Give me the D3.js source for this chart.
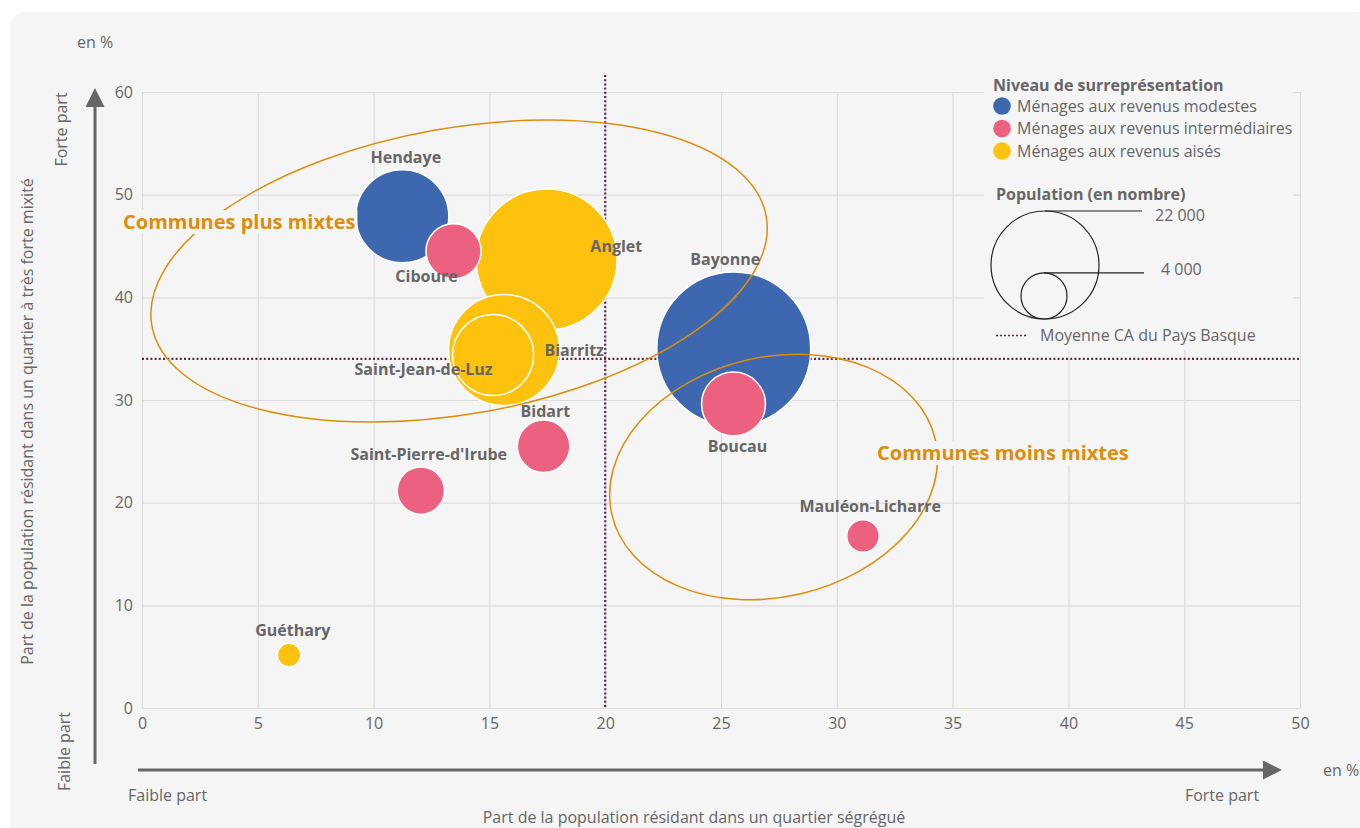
<!DOCTYPE html>
<html>
<head>
<meta charset="utf-8">
<script src="https://cdn.jsdelivr.net/npm/d3@7"></script>
<style>
    body { margin: 0; background: #ffffff; }
    text { font-family: "Open Sans", sans-serif; }
</style>
</head>
<body>
<div id="scatter"></div>
<script>
// Data
var communes = ["Bayonne", "Anglet", "Biarritz", "Hendaye", "Saint-Jean-de-Luz", "Boucau",
    "Ciboure", "Bidart", "Saint-Pierre-d'Irube", "Mauléon-Licharre", "Guéthary"];
var segregue = [25.55, 17.47, 15.63, 11.24, 15.16, 25.54, 13.45, 17.34, 12.04, 31.13, 6.35];
var mixite = [34.97, 43.69, 34.87, 47.89, 34.38, 29.61, 44.49, 25.49, 21.17, 16.75, 5.16];
var population = [44700, 37500, 23200, 16300, 12400, 7700, 5700, 5200, 4200, 2000, 1030];
var niveau = ["modestes", "aises", "aises", "modestes", "aises", "intermediaires",
    "intermediaires", "intermediaires", "intermediaires", "intermediaires", "aises"];

var niveauKeys = ["modestes", "intermediaires", "aises"];
var niveauLabels = ["Ménages aux revenus modestes", "Ménages aux revenus intermédiaires", "Ménages aux revenus aisés"];
var legendPop = [22000, 4000];
var legendPopLabels = ["22 000", "4 000"];

var xTicks = [0, 5, 10, 15, 20, 25, 30, 35, 40, 45, 50];
var yTicks = [0, 10, 20, 30, 40, 50, 60];
var moyenneX = 20;
var moyenneY = 34;

// Set graph size
var svgWidth = 1360;
var svgHeight = 828;

var margin = { top: 92, right: 60, bottom: 120, left: 142 };
var width = 1300 - margin.left;
var height = 708 - margin.top;

var svg = d3.select("#scatter")
    .append("svg")
    .attr("width", svgWidth)
    .attr("height", svgHeight);

// Panel background
svg.append("rect")
    .attr("x", 10)
    .attr("y", 12)
    .attr("width", svgWidth)
    .attr("height", svgHeight)
    .attr("rx", 15)
    .attr("fill", "#f5f5f5");

var chartGroup = svg.append("g")
    .attr("transform", `translate(${margin.left}, ${margin.top})`);

// Scales
var xScale = d3.scaleLinear().domain([0, 50]).range([0, width]);
var yScale = d3.scaleLinear().domain([0, 60]).range([height, 0]);
var rScale = d3.scaleSqrt().domain([0, 22000]).range([0, 54]);
var color = d3.scaleOrdinal().domain(niveauKeys).range(["#3d67ae", "#ec6080", "#fcc20d"]);

// Gridlines
chartGroup.append("g")
    .attr("class", "grid")
    .attr("transform", `translate(0, ${height})`)
    .call(d3.axisBottom(xScale).tickValues(xTicks).tickSize(-height).tickFormat(""));
chartGroup.append("g")
    .attr("class", "grid")
    .call(d3.axisLeft(yScale).tickValues(yTicks).tickSize(-width).tickFormat(""));
chartGroup.selectAll(".grid .domain").remove();
chartGroup.selectAll(".grid line").attr("stroke", "#dcdcdc").attr("stroke-width", 1.2);

// Tick labels
var bottomAxis = chartGroup.append("g")
    .attr("transform", `translate(0, ${height})`)
    .call(d3.axisBottom(xScale).tickValues(xTicks).tickSize(0).tickPadding(10));
var leftAxis = chartGroup.append("g")
    .call(d3.axisLeft(yScale).tickValues(yTicks).tickSize(0).tickPadding(9));
[bottomAxis, leftAxis].forEach(function(ax) {
    ax.select(".domain").remove();
    ax.selectAll("text")
        .style("font-family", "'Open Sans', sans-serif")
        .style("font-size", "16px")
        .attr("fill", "#666");
});

// Legend background hides the grid behind it
chartGroup.append("rect")
    .attr("x", 984 - margin.left)
    .attr("y", 75 - margin.top)
    .attr("width", 1293 - 984)
    .attr("height", 275)
    .attr("fill", "#f5f5f5");

// Mean lines
chartGroup.append("line")
    .attr("x1", xScale(moyenneX)).attr("x2", xScale(moyenneX))
    .attr("y1", -17).attr("y2", height)
    .attr("stroke", "#5b2c4a").attr("stroke-width", 2.2)
    .attr("stroke-dasharray", "2,2.2");
chartGroup.append("line")
    .attr("x1", 0).attr("x2", width)
    .attr("y1", yScale(moyenneY)).attr("y2", yScale(moyenneY))
    .attr("stroke", "#5b2c4a").attr("stroke-width", 2.2)
    .attr("stroke-dasharray", "2,2.2");

// Build rows
var rows = communes.map(function(c, i) {
    return { commune: c, x: segregue[i], y: mixite[i], pop: population[i], niveau: niveau[i] };
});
rows.sort((a, b) => b.pop - a.pop);

// Bubbles
chartGroup.selectAll("circle.bubble")
    .data(rows)
    .enter()
    .append("circle")
    .attr("class", "bubble")
    .attr("cx", d => xScale(d.x))
    .attr("cy", d => yScale(d.y))
    .attr("r", d => rScale(d.pop))
    .attr("fill", d => color(d.niveau))
    .attr("stroke", "#ffffff")
    .attr("stroke-width", 1.5);

// Groupings (ellipses)
var ellipses = [
    { cx: 13.69, cy: 42.56, rx: 312, ry: 143, angle: -10.1 },
    { cx: 27.27, cy: 22.5, rx: 166, ry: 120, angle: -13.2 }
];
chartGroup.selectAll("ellipse")
    .data(ellipses)
    .enter()
    .append("ellipse")
    .attr("transform", d => `translate(${xScale(d.cx)}, ${yScale(d.cy)}) rotate(${d.angle})`)
    .attr("rx", d => d.rx)
    .attr("ry", d => d.ry)
    .attr("fill", "none")
    .attr("stroke", "#dc8d0c")
    .attr("stroke-width", 1.5);

// Group titles with background
var groupTitles = [
    { text: "Communes plus mixtes", x: 123, y: 222 },
    { text: "Communes moins mixtes", x: 877, y: 453 }
];
groupTitles.forEach(function(g) {
    var t = svg.append("text")
        .attr("x", g.x)
        .attr("y", g.y)
        .attr("dy", "0.35em")
        .style("font-size", "20px")
        .style("font-weight", "bold")
        .attr("fill", "#dc8d0c")
        .text(g.text);
    var bb = t.node().getBBox();
    svg.insert("rect", function() { return t.node(); })
        .attr("x", bb.x - 2)
        .attr("y", g.y - 12)
        .attr("width", bb.width + 4)
        .attr("height", 24)
        .attr("fill", "#f5f5f5");
});

// Commune labels (offsets in px from bubble centre)
var labelOffsets = {
    "Hendaye": [3.5, -58.6], "Ciboure": [-27, 25.5], "Anglet": [69.7, -12.8],
    "Biarritz": [70.2, 0.7], "Saint-Jean-de-Luz": [-69.5, 14], "Bidart": [1.8, -34.6],
    "Saint-Pierre-d'Irube": [7.9, -36.4], "Bayonne": [-8.5, -89.7], "Boucau": [4, 42.7],
    "Mauléon-Licharre": [7.3, -29.3], "Guéthary": [3.7, -24.3]
};
chartGroup.selectAll("text.stateText")
    .data(rows)
    .enter()
    .append("text")
    .attr("class", "stateText")
    .attr("x", d => xScale(d.x) + labelOffsets[d.commune][0])
    .attr("y", d => yScale(d.y) + labelOffsets[d.commune][1])
    .attr("dy", "0.35em")
    .attr("text-anchor", "middle")
    .style("font-size", "16px")
    .style("font-weight", "bold")
    .attr("fill", "#666")
    .text(d => d.commune);

// Axis arrows
svg.append("defs").append("marker")
    .attr("id", "arrow")
    .attr("viewBox", "0 0 10 10")
    .attr("refX", 0).attr("refY", 5)
    .attr("markerUnits", "userSpaceOnUse")
    .attr("markerWidth", 28).attr("markerHeight", 19)
    .attr("orient", "auto")
    .append("path")
    .attr("d", "M0,0 L10,5 L0,10 Z")
    .attr("fill", "#666");

svg.append("line")
    .attr("x1", 95).attr("y1", 764)
    .attr("x2", 95).attr("y2", 107)
    .attr("stroke", "#666").attr("stroke-width", 3)
    .attr("marker-end", "url(#arrow)");
svg.append("line")
    .attr("x1", 138).attr("y1", 770)
    .attr("x2", 1263).attr("y2", 770)
    .attr("stroke", "#666").attr("stroke-width", 3)
    .attr("marker-end", "url(#arrow)");

// Axis texts
function addText(x, y, txt, opts) {
    opts = opts || {};
    return svg.append("text")
        .attr("transform", `translate(${x}, ${y})` + (opts.rotate ? " rotate(-90)" : ""))
        .attr("text-anchor", opts.anchor || "start")
        .style("font-size", (opts.size || 16) + "px")
        .style("font-weight", opts.bold ? "bold" : "normal")
        .attr("fill", opts.fill || "#666")
        .text(txt);
}
addText(77, 48, "en %");
addText(1323, 776, "en %");
addText(67, 129.5, "Forte part", { rotate: true, anchor: "middle" });
addText(70, 751.5, "Faible part", { rotate: true, anchor: "middle" });
addText(33, 421.5, "Part de la population résidant dans un quartier à très forte mixité", { rotate: true, anchor: "middle" });
addText(128, 801, "Faible part");
addText(1222, 801, "Forte part", { anchor: "middle" });
addText(694, 823, "Part de la population résidant dans un quartier ségrégué", { anchor: "middle" });

// Legend: colours
addText(993, 91, "Niveau de surreprésentation", { bold: true });
niveauKeys.forEach(function(k, i) {
    var cy = 106 + i * 22.5;
    svg.append("circle")
        .attr("cx", 1002).attr("cy", cy).attr("r", 8.8)
        .attr("fill", color(k));
    addText(1017, cy + 5.6, niveauLabels[i]);
});

// Legend: population sizes
addText(996, 199.5, "Population (en nombre)", { bold: true });
var legendBase = 319;
var legendLineEnd = [1142, 1144];
var legendTextX = [1155, 1161];
var legendTextDy = [9.5, 2.5];
legendPop.forEach(function(p, i) {
    var r = rScale(p);
    var cx = i === 0 ? 1045 : 1044;
    svg.append("circle")
        .attr("cx", cx).attr("cy", legendBase - r).attr("r", r)
        .attr("fill", "none").attr("stroke", "#222").attr("stroke-width", 1.2);
    svg.append("line")
        .attr("x1", cx).attr("x2", legendLineEnd[i])
        .attr("y1", legendBase - 2 * r).attr("y2", legendBase - 2 * r)
        .attr("stroke", "#222").attr("stroke-width", 1.2);
    addText(legendTextX[i], legendBase - 2 * r + legendTextDy[i], legendPopLabels[i]);
});

// Legend: mean line
svg.append("line")
    .attr("x1", 996).attr("x2", 1026)
    .attr("y1", 335.5).attr("y2", 335.5)
    .attr("stroke", "#5b2c4a").attr("stroke-width", 1.5)
    .attr("stroke-dasharray", "2,2");
addText(1040, 341, "Moyenne CA du Pays Basque");
</script>
</body>
</html>
